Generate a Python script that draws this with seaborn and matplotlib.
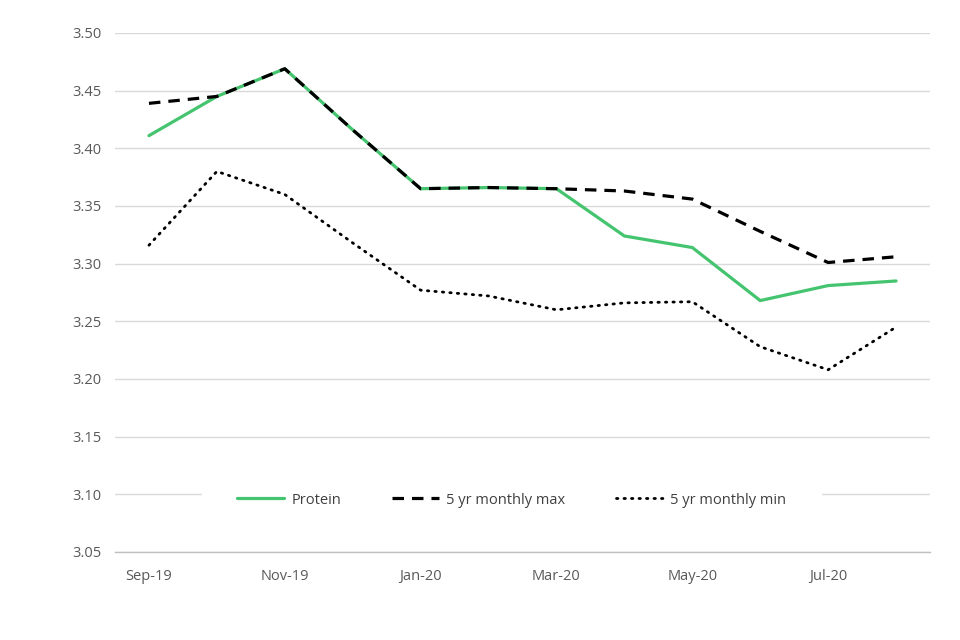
import pandas as pd
import matplotlib
matplotlib.use("Agg")
import matplotlib.pyplot as plt
import seaborn as sns

# Monthly values
months = ["Sep-19", "Oct-19", "Nov-19", "Dec-19", "Jan-20", "Feb-20",
          "Mar-20", "Apr-20", "May-20", "Jun-20", "Jul-20", "Aug-20"]
protein = [3.411, 3.445, 3.469, 3.416, 3.365, 3.366, 3.365, 3.324, 3.314, 3.268, 3.281, 3.285]
max_5yr = [3.439, 3.445, 3.469, 3.416, 3.365, 3.366, 3.365, 3.363, 3.356, 3.328, 3.301, 3.306]
min_5yr = [3.316, 3.380, 3.360, 3.318, 3.277, 3.272, 3.260, 3.266, 3.267, 3.228, 3.208, 3.245]
y_ticks = [3.05, 3.10, 3.15, 3.20, 3.25, 3.30, 3.35, 3.40, 3.45, 3.50]

df = pd.DataFrame({"month": months, "Protein": protein,
                   "5 yr monthly max": max_5yr, "5 yr monthly min": min_5yr})
df["pos"] = range(len(months))

sns.set_style("white")
plt.rcParams["font.family"] = ["Open Sans", "DejaVu Sans"]

fig = plt.figure(figsize=(9.6, 6.4), dpi=100)
ax = fig.add_axes([115 / 960, 1 - 552 / 640, 815 / 960, 519 / 640])

sns.lineplot(data=df, x="pos", y="Protein", color="#45c46f", linewidth=2.3,
             label="Protein", ax=ax, zorder=3)
sns.lineplot(data=df, x="pos", y="5 yr monthly max", color="black", linewidth=2.3,
             label="5 yr monthly max", ax=ax, zorder=4)
ax.lines[-1].set_dashes((3.6, 2.5))
sns.lineplot(data=df, x="pos", y="5 yr monthly min", color="black", linewidth=2.0,
             label="5 yr monthly min", ax=ax, zorder=4)
ax.lines[-1].set_dashes((0.5, 2.2))
ax.lines[-1].set_dash_capstyle("round")

ax.set_ylim(3.05, 3.50)
ax.set_yticks(y_ticks)
ax.set_yticklabels([f"{v:.2f}" for v in y_ticks])
ax.yaxis.grid(True, color="#d9d9d9", linewidth=1)
ax.set_axisbelow(True)

# category axis: tick marks between every second month, labels under the months
ax.set_xlim(-0.5, len(months) - 0.5)
ax.set_xticks([i - 0.5 for i in range(0, len(months) + 1, 2)])
ax.set_xticklabels([])
ax.set_xticks(range(0, len(months), 2), minor=True)
ax.set_xticklabels(months[::2], minor=True)
ax.tick_params(axis="x", which="major", length=5, color="#bfbfbf", width=1)
ax.tick_params(axis="x", which="minor", length=0, pad=12, labelsize=10.5, labelcolor="#595959")
ax.tick_params(axis="y", length=0, pad=10, labelsize=10.5, labelcolor="#595959")

for s in ["top", "right", "left"]:
    ax.spines[s].set_visible(False)
ax.spines["bottom"].set_color("#bfbfbf")
ax.spines["bottom"].set_linewidth(1)

ax.set_xlabel("")
ax.set_ylabel("")

leg = ax.legend(loc="center", bbox_to_anchor=(0.487, 0.1), ncol=3, frameon=True,
                fontsize=10.5, handlelength=3.2, columnspacing=3.5, handletextpad=0.5,
                borderpad=2.4, fancybox=False)
leg.get_frame().set_facecolor("white")
leg.get_frame().set_edgecolor("white")
leg.get_frame().set_alpha(1)
for t in leg.get_texts():
    t.set_color("#404040")

fig.savefig("out.png", dpi=100)
